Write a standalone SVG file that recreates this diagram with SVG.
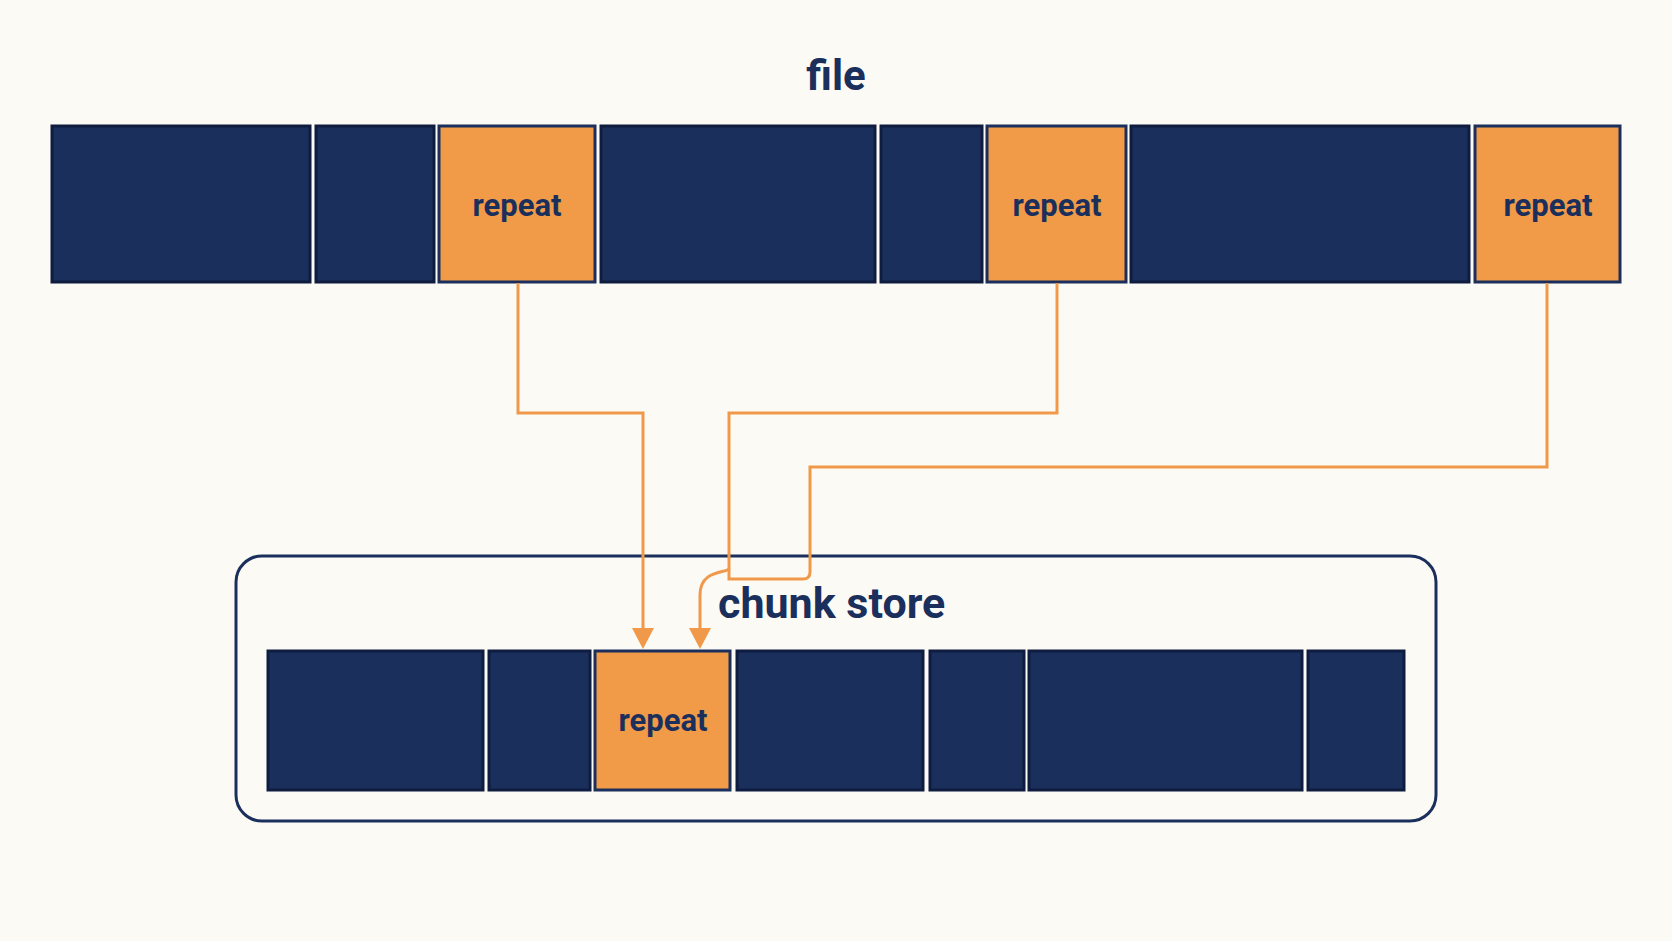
<svg xmlns="http://www.w3.org/2000/svg" width="1672" height="941" viewBox="0 0 1672 941">
<style>
.n{fill:#1B2F5C;stroke:#0E1C40;stroke-width:3}
.o{fill:#F19A48;stroke:#1B2F5C;stroke-width:3}
.t{font-family:Roboto,"Liberation Sans",sans-serif;font-weight:bold;fill:#1B2F5C;text-anchor:middle}
.c{fill:none;stroke:#F0994A;stroke-width:3}
</style>
<defs><marker id="a" viewBox="0 0 20 20" refX="10" refY="20" markerWidth="20" markerHeight="20" markerUnits="userSpaceOnUse" orient="auto-start-reverse"><path d="M0,0 L20,0 L10,20Z" fill="#F0994A" transform="rotate(-90 10 10)"/></marker></defs>
<rect width="1672" height="941" fill="#FCFAF5"/>
<g id="file"><text class="t" x="836" y="90" font-size="42">file</text></g>
<g id="filerow">
<rect class="n" x="52" y="126" width="258" height="156"/>
<rect class="n" x="316" y="126" width="118" height="156"/>
<g id="r1"><rect class="o" x="439" y="126" width="156" height="156"/><text class="t" x="517" y="216" font-size="31">repeat</text></g>
<rect class="n" x="601" y="126" width="274" height="156"/>
<rect class="n" x="881" y="126" width="101" height="156"/>
<g id="r2"><rect class="o" x="987" y="126" width="139" height="156"/><text class="t" x="1057" y="216" font-size="31">repeat</text></g>
<rect class="n" x="1131" y="126" width="338" height="156"/>
<g id="r3"><rect class="o" x="1475" y="126" width="145" height="156"/><text class="t" x="1548" y="216" font-size="31">repeat</text></g>
</g>
<g id="store">
<rect x="236" y="556" width="1200" height="265" rx="26" fill="none" stroke="#1B2F5C" stroke-width="3"/>
<text class="t" x="718" y="618" font-size="43" text-anchor="start" style="text-anchor:start">chunk store</text>
<rect class="n" x="268" y="651" width="215" height="139"/>
<rect class="n" x="489" y="651" width="101" height="139"/>
<g id="rs"><rect class="o" x="595" y="651" width="135" height="139"/><text class="t" x="663" y="731" font-size="31">repeat</text></g>
<rect class="n" x="737" y="651" width="186" height="139"/>
<rect class="n" x="930" y="651" width="94" height="139"/>
<rect class="n" x="1029" y="651" width="273" height="139"/>
<rect class="n" x="1308" y="651" width="96" height="139"/>
</g>
<g id="connectors">
<path class="c" d="M518,283 V413 H643 V630"/>
<path d="M632,628 H654 L643,649Z" fill="#F0994A"/>
<path class="c" d="M1057,283 V413 H729 V568 C729,574 700,568 700,595 V630"/>
<path d="M689,628 H711 L700,649Z" fill="#F0994A"/>
<path class="c" d="M1547,283 V467 H810 V572 Q810,579 803,579 H729 V568"/>
</g>
</svg>
